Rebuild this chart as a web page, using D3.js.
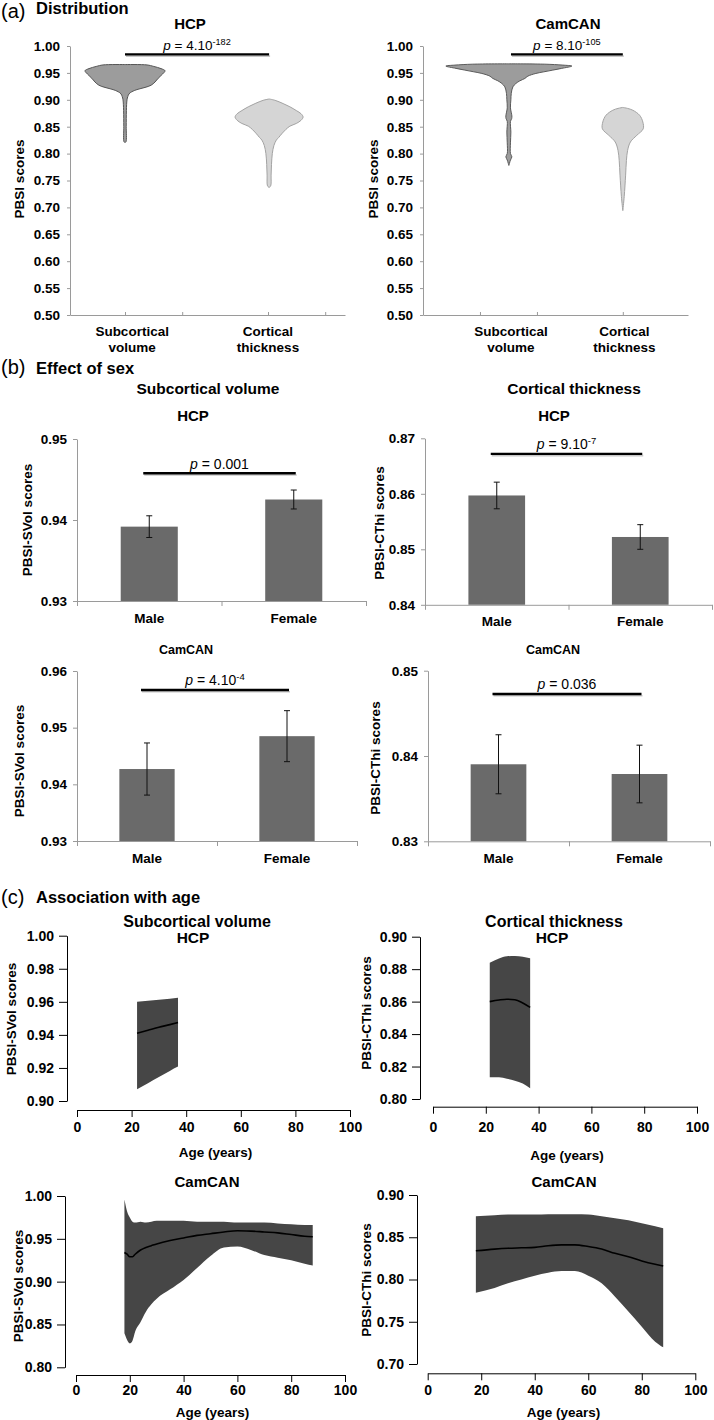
<!DOCTYPE html>
<html><head><meta charset="utf-8">
<script src="https://cdn.jsdelivr.net/npm/d3@7"></script>
<style>
body{margin:0;background:#fff}
svg{display:block}
</style></head><body>
<svg id="fig" width="714" height="1420"></svg>
<script>
// ================= DATA =================
// (a) Distribution
const distTicks = [0.50,0.55,0.60,0.65,0.70,0.75,0.80,0.85,0.90,0.95,1.00];
const distCatLabels = [["Subcortical","volume"],["Cortical","thickness"]];
// violin profiles: [PBSI score, relative density]
const hcpSubcorticalViolin = [[0.9655,0],[0.9648,0.55],[0.962,0.72],[0.958,0.9],[0.954,1.0],[0.948,0.94],[0.940,0.83],[0.933,0.75],[0.927,0.65],[0.923,0.5],[0.919,0.3],[0.915,0.17],[0.911,0.1],[0.906,0.07],[0.900,0.05],[0.880,0.035],[0.850,0.03],[0.822,0.025],[0.8205,0]];
const hcpCorticalViolin = [[0.9015,0],[0.899,0.15],[0.893,0.35],[0.887,0.52],[0.880,0.68],[0.874,0.8],[0.868,0.85],[0.862,0.8],[0.856,0.68],[0.851,0.52],[0.845,0.42],[0.838,0.33],[0.830,0.24],[0.825,0.18],[0.815,0.12],[0.800,0.08],[0.780,0.06],[0.760,0.05],[0.740,0.04],[0.737,0]];
const camSubcorticalViolin = [[0.9668,0],[0.9662,0.9],[0.9645,1.35],[0.9627,1.575],[0.9584,1.32],[0.9552,1.1],[0.952,0.875],[0.949,0.675],[0.944,0.475],[0.9397,0.4],[0.9353,0.275],[0.9303,0.175],[0.924,0.1],[0.912,0.06],[0.900,0.05],[0.885,0.04],[0.870,0.075],[0.865,0.07],[0.860,0.04],[0.840,0.05],[0.820,0.04],[0.800,0.04],[0.794,0.075],[0.788,0.04],[0.778,0]];
const camCorticalViolin = [[0.8858,0],[0.884,0.12],[0.8806,0.25],[0.8713,0.42],[0.8588,0.5],[0.846,0.51],[0.834,0.35],[0.8216,0.19],[0.806,0.12],[0.787,0.09],[0.760,0.07],[0.720,0.035],[0.694,0]];
// category positions on the (unitless) x axis of the distribution plots
const hcpViolinPos = [1.0, 3.62];
const hcpLabelPos = [1.13, 3.6];
const hcpAxisTicks = [1.0, 2.04, 3.6, 4.64];
const camViolinPos = [1.62, 3.77];
const camLabelPos = [1.66, 3.8];
const camAxisTicks = [1.075, 2.15, 3.77];
const distPValues = [["4.10","-182"],["8.10","-105"]];
const distPLineScore = [0.9845, 0.9845];
const hcpPLineX = [1.0, 3.62];
const camPLineX = [1.66, 3.77];

// (b) Effect of sex
const sexCategories = ["Male","Female"];
const hcpSVolMean = [0.93918, 0.94253];
const hcpSVolErr  = [0.00134, 0.00117];
const hcpCThiMean = [0.8597, 0.85222];
const hcpCThiErr  = [0.0024, 0.00222];
const camSVolMean = [0.9427, 0.9485];
const camSVolErr  = [0.0046, 0.0045];
const camCThiMean = [0.83903, 0.83789];
const camCThiErr  = [0.00346, 0.00338];
const hcpSVolTicks = [0.93,0.94,0.95];
const hcpCThiTicks = [0.84,0.85,0.86,0.87];
const camSVolTicks = [0.93,0.94,0.95,0.96];
const camCThiTicks = [0.83,0.84,0.85];
const sexPTexts = [["0.001",""],["9.10","-7"],["4.10","-4"],["0.036",""]];
const sexPLineScore = [0.94577, 0.8672, 0.95665, 0.84727];

// (c) Association with age
const ageTicks = [0,20,40,60,80,100];
const hcpSVolAgeTicks = [0.90,0.92,0.94,0.96,0.98,1.00];
const hcpCThiAgeTicks = [0.80,0.82,0.84,0.86,0.88,0.90];
const camSVolAgeTicks = [0.80,0.85,0.90,0.95,1.00];
const camCThiAgeTicks = [0.70,0.75,0.80,0.85,0.90];

const hcpSVolAge   = [22, 26, 30, 34, 37];
const hcpSVolUpper = [0.9600, 0.9606, 0.9613, 0.9619, 0.9624];
const hcpSVolLower = [0.9071, 0.9108, 0.9145, 0.9182, 0.9208];
const hcpSVolFit   = [0.9410, 0.9428, 0.9446, 0.9462, 0.9475];

const hcpCThiAge   = [21.5, 25, 28, 31, 34, 36.8];
const hcpCThiUpper = [0.8840, 0.8866, 0.8880, 0.8881, 0.8876, 0.8867];
const hcpCThiLower = [0.8134, 0.8134, 0.8125, 0.8113, 0.8095, 0.8066];
const hcpCThiFit   = [0.8600, 0.8610, 0.8615, 0.8612, 0.8592, 0.8565];

const camSVolAge   = [18, 19, 20, 21, 22, 24, 26, 28, 30, 35, 40, 45, 50, 55, 60, 65, 70, 75, 80, 85, 88];
const camSVolUpper = [0.996, 0.982, 0.975, 0.970, 0.969, 0.970, 0.969, 0.970, 0.971, 0.971, 0.971, 0.970, 0.970, 0.970, 0.969, 0.969, 0.969, 0.968, 0.967, 0.966, 0.966];
const camSVolLower = [0.8397, 0.832, 0.828, 0.831, 0.8417, 0.853, 0.865, 0.8735, 0.880, 0.891, 0.902, 0.916, 0.930, 0.940, 0.941, 0.937, 0.931, 0.928, 0.925, 0.921, 0.919];
const camSVolFit   = [0.934, 0.932, 0.929, 0.929, 0.932, 0.937, 0.940, 0.942, 0.944, 0.948, 0.951, 0.954, 0.956, 0.958, 0.9595, 0.959, 0.958, 0.957, 0.955, 0.953, 0.9525];

const camCThiAge   = [18, 25, 30, 35, 40, 45, 50, 55, 60, 65, 70, 75, 80, 85, 88];
const camCThiUpper = [0.875, 0.876, 0.877, 0.877, 0.877, 0.8773, 0.8773, 0.8773, 0.877, 0.875, 0.8724, 0.870, 0.8665, 0.863, 0.8606];
const camCThiLower = [0.7844, 0.790, 0.7955, 0.800, 0.8045, 0.808, 0.810, 0.810, 0.8045, 0.7955, 0.7797, 0.762, 0.7441, 0.7264, 0.7197];
const camCThiFit   = [0.834, 0.836, 0.837, 0.8375, 0.838, 0.840, 0.841, 0.841, 0.839, 0.836, 0.831, 0.827, 0.822, 0.818, 0.816];

// ================= DRAWING =================
const FONT = "'Liberation Sans', Arial, Helvetica, sans-serif";
const svg = d3.select("#fig");

function label(x, y, str, size, opts = {}) {
  return svg.append("text").attr("x", x).attr("y", y)
    .attr("text-anchor", opts.anchor || "middle")
    .style("font-family", FONT).style("font-size", size + "px")
    .style("font-weight", opts.weight || "bold")
    .attr("fill", "#000").text(str);
}
function vlabel(x, y, str, size) {
  svg.append("text").attr("transform", `translate(${x},${y}) rotate(-90)`)
    .attr("text-anchor", "middle").attr("dominant-baseline", "central")
    .style("font-family", FONT).style("font-size", size + "px").style("font-weight", "bold")
    .text(str);
}
function pText(cx, y, base, sup, size) {
  const t = svg.append("text").attr("x", cx).attr("y", y).attr("text-anchor", "middle")
    .style("font-family", FONT).style("font-size", size + "px").attr("fill", "#000");
  t.append("tspan").style("font-style", "italic").text("p");
  t.append("tspan").text(" = " + base);
  if (sup) t.append("tspan").attr("dy", -5).style("font-size", (size * 0.68) + "px").text(sup);
}
function pLine(x1, x2, y) {
  svg.append("line").attr("x1", x1 + 1).attr("x2", x2 + 1).attr("y1", y + 1.8).attr("y2", y + 1.8)
    .attr("stroke", "#c8c8c8").attr("stroke-width", 1.6);
  svg.append("line").attr("x1", x1).attr("x2", x2).attr("y1", y).attr("y2", y)
    .attr("stroke", "#000").attr("stroke-width", 2.4);
}
function styleAxis(g, color, size) {
  g.attr("font-family", FONT).attr("font-size", size);
  g.selectAll(".domain").attr("stroke", color);
  g.selectAll(".tick line").attr("stroke", color);
  g.selectAll(".tick text").attr("fill", "#000").style("font-weight", "bold");
}
function heading(yLetter, yTitle, letter, title) {
  label(1, yLetter, "(" + letter + ")", 20, {anchor: "start", weight: "normal"});
  label(36, yTitle, title, 16.5, {anchor: "start"});
}

// ---------- (a) ----------
heading(18, 14, "a", "Distribution");
const yDist = d3.scaleLinear().domain([0.5, 1.0]).range([315, 46]);
const wDist = d3.scaleLinear().domain([0, 1]).range([0, 40]);
const violinArea = (x, cx) => d3.area().curve(d3.curveCatmullRom.alpha(0.5))
  .y(d => yDist(d[0])).x0(d => cx - wDist(d[1])).x1(d => cx + wDist(d[1]));

function distPanel(cfg) {
  const x = d3.scaleLinear().domain([0, 5]).range(cfg.xr);
  const ga = svg.append("g").attr("transform", `translate(${cfg.xr[0]},0)`)
    .call(d3.axisLeft(yDist).tickValues(distTicks).tickFormat(d3.format(".2f")).tickSize(3).tickSizeOuter(0).tickPadding(7));
  styleAxis(ga, "#9a9a9a", 13.5);
  const gx = svg.append("g").attr("transform", `translate(0,${yDist(0.5)})`)
    .call(d3.axisBottom(x).tickValues(cfg.ticks).tickFormat("").tickSize(-3).tickSizeOuter(0));
  styleAxis(gx, "#9a9a9a", 13);
  cfg.violins.forEach((v, i) => {
    svg.append("path").datum(v).attr("d", violinArea(x, x(cfg.vpos[i]))(v))
      .attr("fill", cfg.fills[i]).attr("stroke", cfg.strokes[i]).attr("stroke-width", 1);
  });
  distCatLabels.forEach((lines, i) => {
    label(x(cfg.lpos[i]), 335.7, lines[0], 13.5);
    label(x(cfg.lpos[i]), 351.7, lines[1], 13.5);
  });
  label(cfg.titleX, 29.3, cfg.title, 15);
  const x1 = x(cfg.plx[0]), x2 = x(cfg.plx[1]), py = yDist(cfg.pScore);
  pLine(x1, x2, py);
  pText((x1 + x2) / 2, py - 4, cfg.p[0], cfg.p[1], 13.5);
  vlabel(cfg.yTitleX, 179, "PBSI scores", 13.5);
}
distPanel({xr: [70, 345], ticks: hcpAxisTicks, violins: [hcpSubcorticalViolin, hcpCorticalViolin],
  vpos: hcpViolinPos, lpos: hcpLabelPos, fills: ["#9c9c9c", "#d5d5d5"], strokes: ["#555", "#a3a3a3"],
  title: "HCP", titleX: 190, plx: hcpPLineX, pScore: distPLineScore[0], p: distPValues[0], yTitleX: 19});
distPanel({xr: [423, 688], ticks: camAxisTicks, violins: [camSubcorticalViolin, camCorticalViolin],
  vpos: camViolinPos, lpos: camLabelPos, fills: ["#9c9c9c", "#d5d5d5"], strokes: ["#5a5a5a", "#a3a3a3"],
  title: "CamCAN", titleX: 568, plx: camPLineX, pScore: distPLineScore[1], p: distPValues[1], yTitleX: 373});

// ---------- (b) ----------
heading(373.5, 373.5, "b", "Effect of sex");
label(208, 393.5, "Subcortical volume", 15.5);
label(574, 393.5, "Cortical thickness", 15.5);

function barPanel(cfg) {
  const x = d3.scaleBand().domain(sexCategories).range(cfg.xr).paddingInner(0.605).paddingOuter(0.3025);
  const y = d3.scaleLinear().domain(cfg.dom).range(cfg.yr);
  const ga = svg.append("g").attr("transform", `translate(${cfg.xr[0]},0)`)
    .call(d3.axisLeft(y).tickValues(cfg.ticks).tickFormat(d3.format(".2f")).tickSize(4).tickSizeOuter(0).tickPadding(6));
  styleAxis(ga, "#9a9a9a", 13.5);
  svg.selectAll(null).data(sexCategories).enter().append("rect")
    .attr("x", d => x(d)).attr("width", x.bandwidth())
    .attr("y", (d, i) => y(cfg.mean[i])).attr("height", (d, i) => y(cfg.dom[0]) - y(cfg.mean[i]))
    .attr("fill", "#6a6a6a");
  const xb = d3.scaleLinear().domain([0, sexCategories.length]).range(cfg.xr);
  const gx = svg.append("g").attr("transform", `translate(0,${y(cfg.dom[0])})`)
    .call(d3.axisBottom(xb).tickValues([0, 1, 2]).tickFormat("").tickSize(5).tickSizeOuter(0));
  styleAxis(gx, "#9a9a9a", 13);
  sexCategories.forEach((c, i) => {
    const cx = x(c) + x.bandwidth() / 2;
    const g = svg.append("g").attr("stroke", "#111").attr("stroke-width", 1);
    g.append("line").attr("x1", cx).attr("x2", cx).attr("y1", y(cfg.mean[i] + cfg.err[i])).attr("y2", y(cfg.mean[i] - cfg.err[i]));
    [1, -1].forEach(s => g.append("line").attr("x1", cx - 3).attr("x2", cx + 3)
      .attr("y1", y(cfg.mean[i] + s * cfg.err[i])).attr("y2", y(cfg.mean[i] + s * cfg.err[i])));
    label(cx, y(cfg.dom[0]) + 21.5, c, 13.5);
  });
  const x1 = x("Male") + x.bandwidth() / 2 - 6, x2 = x("Female") + x.bandwidth() / 2 + 2;
  const py = y(cfg.pScore);
  pLine(x1, x2, py);
  pText((x1 + x2) / 2, py - 4.5, cfg.p[0], cfg.p[1], 14);
  label(cfg.titleX, cfg.titleY, cfg.title, cfg.titleSize);
  vlabel(cfg.yTitle[0], cfg.yTitle[1], cfg.yTitleText, 13.5);
}
barPanel({xr: [77, 366], dom: [0.93, 0.95], yr: [601, 439], ticks: hcpSVolTicks, mean: hcpSVolMean, err: hcpSVolErr,
  pScore: sexPLineScore[0], p: sexPTexts[0], title: "HCP", titleX: 193, titleY: 420.5, titleSize: 15,
  yTitle: [27, 520], yTitleText: "PBSI-SVol scores"});
barPanel({xr: [425, 712], dom: [0.84, 0.87], yr: [604.8, 438.3], ticks: hcpCThiTicks, mean: hcpCThiMean, err: hcpCThiErr,
  pScore: sexPLineScore[1], p: sexPTexts[1], title: "HCP", titleX: 554, titleY: 420.5, titleSize: 15,
  yTitle: [379, 523], yTitleText: "PBSI-CThi scores"});
barPanel({xr: [77, 357], dom: [0.93, 0.96], yr: [841, 671], ticks: camSVolTicks, mean: camSVolMean, err: camSVolErr,
  pScore: sexPLineScore[2], p: sexPTexts[2], title: "CamCAN", titleX: 186, titleY: 653.5, titleSize: 12.5,
  yTitle: [19, 761], yTitleText: "PBSI-SVol scores"});
barPanel({xr: [428, 710], dom: [0.83, 0.85], yr: [841.3, 670.7], ticks: camCThiTicks, mean: camCThiMean, err: camCThiErr,
  pScore: sexPLineScore[3], p: sexPTexts[3], title: "CamCAN", titleX: 553, titleY: 653.5, titleSize: 12.5,
  yTitle: [375, 758], yTitleText: "PBSI-CThi scores"});

// ---------- (c) ----------
heading(903.5, 903.3, "c", "Association with age");
label(197, 926.7, "Subcortical volume", 16);
label(193, 943.3, "HCP", 15.5);
label(554, 926.7, "Cortical thickness", 16);
label(552, 943.3, "HCP", 15.5);

function agePanel(cfg) {
  const x = d3.scaleLinear().domain([0, 100]).range(cfg.xr);
  const y = d3.scaleLinear().domain(cfg.dom).range(cfg.yr);
  const rows = cfg.age.map((a, i) => ({age: a, hi: cfg.upper[i], lo: cfg.lower[i], fit: cfg.fit[i]}));
  svg.append("path").datum(rows)
    .attr("d", d3.area().curve(d3.curveMonotoneX).x(d => x(d.age)).y0(d => y(d.lo)).y1(d => y(d.hi)))
    .attr("fill", "#464646");
  svg.append("path").datum(rows)
    .attr("d", d3.line().curve(d3.curveMonotoneX).x(d => x(d.age)).y(d => y(d.fit)))
    .attr("fill", "none").attr("stroke", "#000").attr("stroke-width", 1.6);
  const ga = svg.append("g").attr("transform", `translate(${cfg.yAxisX},0)`)
    .call(d3.axisLeft(y).tickValues(cfg.ticks).tickFormat(d3.format(".2f")).tickSize(8).tickSizeOuter(0).tickPadding(5));
  styleAxis(ga, "#000", 14);
  const gx = svg.append("g").attr("transform", `translate(0,${cfg.xAxisY})`)
    .call(d3.axisBottom(x).tickValues(ageTicks).tickSize(7).tickSizeOuter(0).tickPadding(cfg.xpad));
  styleAxis(gx, "#000", 14);
  label((cfg.xr[0] + cfg.xr[1]) / 2 + 2, cfg.ageLabelY, "Age (years)", 13.5);
  if (cfg.title) label(cfg.title[1], cfg.title[2], cfg.title[0], 15);
  vlabel(cfg.yTitle[0], cfg.yTitle[1], cfg.yTitleText, 13.5);
}
agePanel({xr: [77, 350], dom: [0.90, 1.00], yr: [1101, 935.7], ticks: hcpSVolAgeTicks, yAxisX: 67, xAxisY: 1110, xpad: 5,
  age: hcpSVolAge, upper: hcpSVolUpper, lower: hcpSVolLower, fit: hcpSVolFit, ageLabelY: 1157,
  yTitle: [11, 1019], yTitleText: "PBSI-SVol scores"});
agePanel({xr: [433, 697], dom: [0.80, 0.90], yr: [1099, 936.7], ticks: hcpCThiAgeTicks, yAxisX: 420, xAxisY: 1106.7, xpad: 8,
  age: hcpCThiAge, upper: hcpCThiUpper, lower: hcpCThiLower, fit: hcpCThiFit, ageLabelY: 1160,
  yTitle: [366, 1013], yTitleText: "PBSI-CThi scores"});
agePanel({xr: [76, 345], dom: [0.80, 1.00], yr: [1367.3, 1196], ticks: camSVolAgeTicks, yAxisX: 65, xAxisY: 1375, xpad: 3,
  age: camSVolAge, upper: camSVolUpper, lower: camSVolLower, fit: camSVolFit, ageLabelY: 1416.5,
  title: ["CamCAN", 207, 1187.3], yTitle: [18, 1286], yTitleText: "PBSI-SVol scores"});
agePanel({xr: [427.7, 695.3], dom: [0.70, 0.90], yr: [1364, 1195], ticks: camCThiAgeTicks, yAxisX: 417, xAxisY: 1373.3, xpad: 4.5,
  age: camCThiAge, upper: camCThiUpper, lower: camCThiLower, fit: camCThiFit, ageLabelY: 1416.5,
  title: ["CamCAN", 564, 1187.3], yTitle: [366, 1280], yTitleText: "PBSI-CThi scores"});
</script>
</body></html>
